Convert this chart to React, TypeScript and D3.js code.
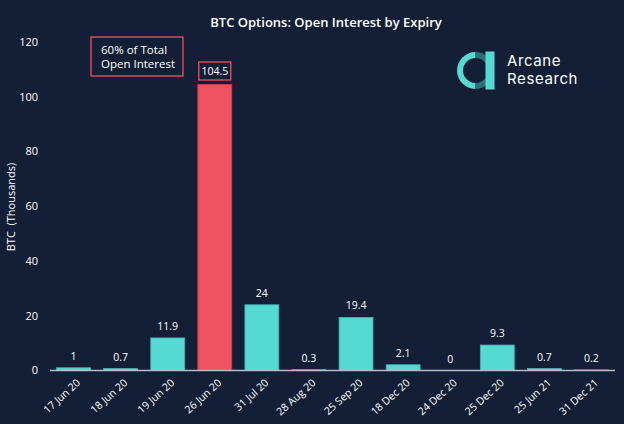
import React from "react";
import * as d3 from "d3";

const categories = ["17 Jun 20","18 Jun 20","19 Jun 20","26 Jun 20","31 Jul 20","28 Aug 20","25 Sep 20","18 Dec 20","24 Dec 20","25 Dec 20","25 Jun 21","31 Dec 21"];
const values = [1, 0.7, 11.9, 104.5, 24, 0.3, 19.4, 2.1, 0, 9.3, 0.7, 0.2];
const labels = ["1","0.7","11.9","104.5","24","0.3","19.4","2.1","0","9.3","0.7","0.2"];
const yTicks = [0, 20, 40, 60, 80, 100, 120];
const highlight = "26 Jun 20";

const W = 624, H = 424;
const BG = "#131f37";
const TEAL = "#56d9d0";
const RED = "#ef5361";
const FONT = "'Open Sans', 'Noto Sans', sans-serif";

export default function App() {
  const x = d3.scaleBand<string>().domain(categories).range([50, 615]).paddingInner(0.28).paddingOuter(0.14);
  const y = d3.scaleLinear().domain([0, 120]).range([370.5, 42]);
  const cx = (c: string) => (x(c) as number) + x.bandwidth() / 2;

  return (
    <svg width={W} height={H} style={{ position: "absolute", left: 0, top: 0, display: "block" }} fontFamily={FONT}>
      <rect x={0} y={0} width={W} height={H} fill={BG} />
      <text x={326} y={27} textAnchor="middle" fill="#fff" fontSize={13} fontWeight={600}>BTC Options: Open Interest by Expiry</text>

      {yTicks.map((t) => (
        <text key={t} x={38} y={y(t)} dy="0.35em" textAnchor="end" fill="#fff" fontSize={11} fontWeight={500}>{t}</text>
      ))}
      <text transform={`translate(11.5,${207}) rotate(-90)`} textAnchor="middle" dy="0.35em" fill="#fff" fontSize={11} fontWeight={500} style={{ whiteSpace: "pre" }}>{"BTC  (Thousands)"}</text>

      {categories.map((c, i) => {
        const v = values[i];
        const top = y(v);
        const isH = c === highlight;
        return (
          <g key={c}>
            <rect x={x(c)} y={top} width={x.bandwidth()} height={y(0) - top} fill={isH ? RED : TEAL} stroke={isH ? "#c9414f" : "#3fb5ad"} strokeWidth={0.8} />
            {isH ? (
              <g>
                <rect x={cx(c) - 16} y={62} width={32} height={18} fill="none" stroke={RED} strokeWidth={1.3} />
                <text x={cx(c)} y={71} dy="0.35em" textAnchor="middle" fill="#fff" fontSize={10.5} fontWeight={500}>{labels[i]}</text>
              </g>
            ) : (
              <text x={cx(c)} y={top - 8} textAnchor="middle" fill="#fff" fontSize={10.5} fontWeight={500}>{labels[i]}</text>
            )}
            <text transform={`translate(${cx(c) + 5},${381}) rotate(-42)`} textAnchor="end" dy="0.35em" fill="#fff" fontSize={10.5} fontWeight={500}>{c}</text>
          </g>
        );
      })}
      <line x1={50} x2={615} y1={370.5} y2={370.5} stroke="#b8bcc6" strokeWidth={1.5} />

      <rect x={91} y={37} width={92} height={39} fill="none" stroke={RED} strokeWidth={1.3} />
      <text x={101} y={54} fill="#fff" fontSize={11.5} fontWeight={500}>60% of Total</text>
      <text x={101} y={68} fill="#fff" fontSize={11.5} fontWeight={500}>Open Interest</text>

      <g>
        <path d={d3.arc()({ innerRadius: 12.5, outerRadius: 18.5, startAngle: Math.PI, endAngle: 2 * Math.PI }) as string} transform="translate(475.5,70.5)" fill={TEAL} />
        <path d={d3.arc()({ innerRadius: 12.5, outerRadius: 18.5, startAngle: 0, endAngle: Math.PI }) as string} transform="translate(475.5,70.5)" fill="#2f6f78" />
        <rect x={485.5} y={51.5} width={9} height={38} fill={TEAL} />
        <text x={507} y={65.5} fill="#fff" fontSize={15} letterSpacing={0.6} fontFamily="'Inter', 'Noto Sans', sans-serif" fontWeight={400}>Arcane</text>
        <text x={507} y={84} fill="#fff" fontSize={15} letterSpacing={0.6} fontFamily="'Inter', 'Noto Sans', sans-serif" fontWeight={400}>Research</text>
      </g>
    </svg>
  );
}
